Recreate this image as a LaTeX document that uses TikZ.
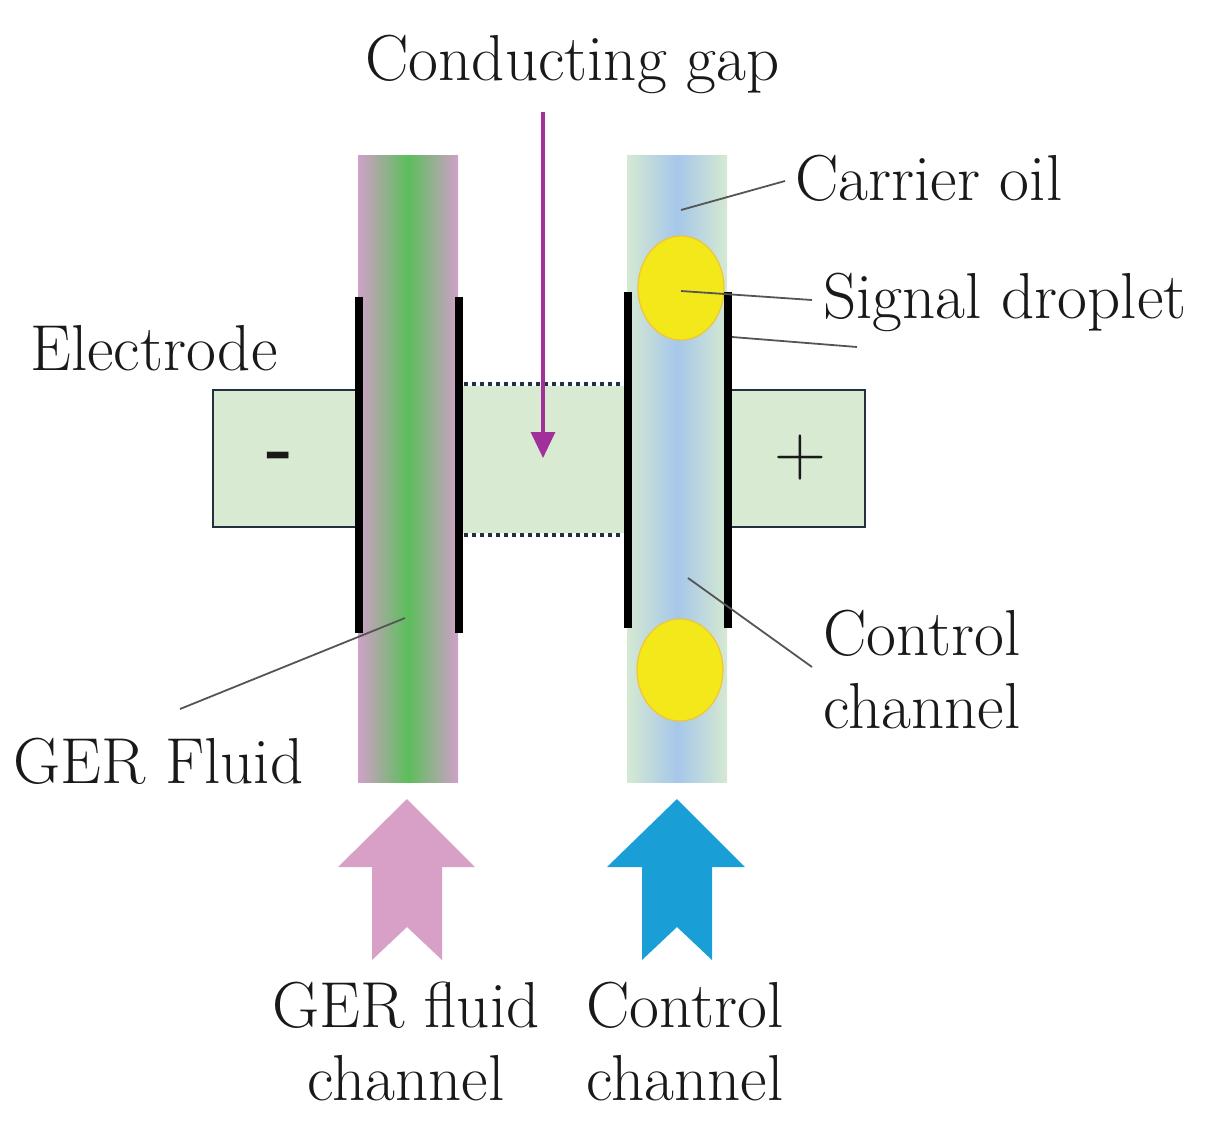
\documentclass[tikz,border=0pt]{standalone}
\usetikzlibrary{arrows.meta,shapes.geometric}
\definecolor{elfill}{HTML}{D9EAD3}
\definecolor{eledge}{HTML}{22313F}
\definecolor{gpink}{HTML}{D0A0C8}
\definecolor{ggreen}{HTML}{5CBE5A}
\definecolor{bedge}{HTML}{D5E9D2}
\definecolor{bblue}{HTML}{A6C7EA}
\definecolor{drop}{HTML}{F3E91A}
\definecolor{dropedge}{HTML}{F0C43A}
\definecolor{purp}{HTML}{A2309A}
\definecolor{apink}{HTML}{D8A0C6}
\definecolor{ablue}{HTML}{1A9ED6}
\definecolor{leader}{HTML}{555555}
\tikzset{
  lbl/.style={inner sep=0pt, font=\fontsize{32.5}{36.5}\selectfont, text=black!90},
  elbox/.style={fill=elfill, draw=eledge, line width=1.4},
  bar/.style={line width=4.4, black},
  leadline/.style={draw=leader, line width=0.9},
  droplet/.style={fill=drop, draw=dropedge, line width=0.6},
  gapline/.style={draw=eledge, line width=2, dash pattern=on 1.8 off 2.2},
}
\begin{document}
\begin{tikzpicture}[x=0.5pt, y=-0.5pt]
\useasboundingbox (0,0) rectangle (1230,1135);
% electrodes
\draw[elbox] (213,390) rectangle (358,527);
\draw[elbox] (728,390) rectangle (865,527);
\fill[elfill] (459,386) rectangle (628,533);
\draw[gapline] (464,384) -- (626,384);
\draw[gapline] (464,535) -- (626,535);
% GER fluid column
\shade[left color=gpink, right color=ggreen] (358,155) rectangle (408,782);
\shade[left color=ggreen, right color=gpink] (408,155) rectangle (458,782);
% control column
\shade[left color=bedge, right color=bblue] (627,155) rectangle (677,782);
\shade[left color=bblue, right color=bedge] (677,155) rectangle (727,782);
% droplets
\node[droplet, ellipse, minimum width=43pt, minimum height=52pt, inner sep=0] (d1) at (681,288) {};
\node[droplet, ellipse, minimum width=43pt, minimum height=51pt, inner sep=0] (d2) at (680,670) {};
% electrode bars
\draw[bar] (359,297) -- (359,633);
\draw[bar] (459,297) -- (459,633);
\draw[bar] (628,292) -- (628,628);
\draw[bar] (728,292) -- (728,628);
% signs
\node[lbl, font=\fontsize{36}{40}\bfseries] (minus) at (280,462) {-};
\node[lbl, font=\fontsize{36}{40}\selectfont] (plus) at (800,458) {+};
% labels
\node[lbl, anchor=base west] (cg) at (365,80) {Conducting gap};
\node[lbl, anchor=base west] (co) at (795,200) {Carrier oil};
\node[lbl, anchor=base west] (sd) at (823,318) {Signal droplet};
\node[lbl, anchor=base west] (el) at (30,370) {Electrode};
\node[lbl, anchor=base west] (gf) at (13,783) {GER Fluid};
\node[lbl, anchor=base west, align=left] (cc) at (823,728) {Control\\channel};
\node[lbl, anchor=base, align=center] (gfc) at (406,1100) {GER fluid\\channel};
\node[lbl, anchor=base, align=center] (ccb) at (685,1100) {Control\\channel};
% conducting gap arrow
\coordinate (cgs) at (543,112);
\coordinate (cge) at (543,458);
\draw[purp, line width=1.6, -{Triangle[length=13, width=12]}] (cgs) -- (cge);
% leader lines
\coordinate (l1a) at (681,210); \coordinate (l1b) at (785,181);
\coordinate (l2a) at (681,291); \coordinate (l2b) at (812,300);
\coordinate (l3a) at (732,337); \coordinate (l3b) at (857,347);
\coordinate (l4a) at (688,578); \coordinate (l4b) at (812,667);
\coordinate (l5a) at (405,618); \coordinate (l5b) at (180,709);
\draw[leadline] (l1a) -- (l1b);
\draw[leadline] (l2a) -- (l2b);
\draw[leadline] (l3a) -- (l3b);
\draw[leadline] (l4a) -- (l4b);
\draw[leadline] (l5a) -- (l5b);
% flow arrows
\fill[apink] (407,799) -- (475,867) -- (442,867) -- (442,960) -- (407,927) -- (372,960) -- (372,867) -- (338,867) -- cycle;
\fill[ablue] (677,799) -- (745,867) -- (712,867) -- (712,960) -- (677,927) -- (642,960) -- (642,867) -- (607,867) -- cycle;
\end{tikzpicture}
\end{document}
